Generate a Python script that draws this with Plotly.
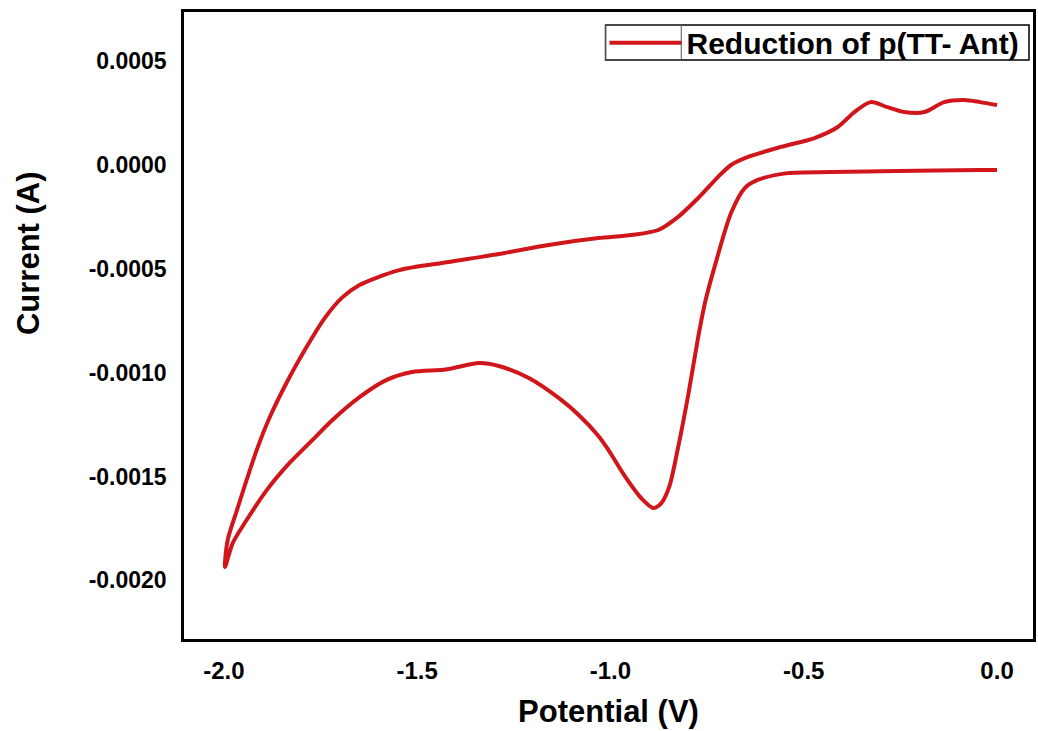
import plotly.graph_objects as go

# Cyclic voltammogram: cathodic sweep (0 -> -2.0 V) then anodic return (-2.0 -> 0 V)
potential_fwd = [0.000, -0.044, -0.258, -0.430, -0.541, -0.619, -0.652, -0.688,
                 -0.729, -0.755, -0.773, -0.799, -0.825, -0.848, -0.869, -0.889, -0.920,
                 -0.961, -1.005, -1.031, -1.082, -1.134, -1.211, -1.289, -1.340, -1.425, -1.513,
                 -1.580, -1.649, -1.719, -1.771, -1.830, -1.889, -1.941, -1.977, -1.997]
current_fwd = [-2.4e-5, -2.4e-5, -2.9e-5, -3.4e-5, -3.9e-5, -7.2e-5, -1.10e-4, -2.31e-4,
               -4.80e-4, -6.60e-4, -8.29e-4, -1.110e-3, -1.360e-3, -1.550e-3, -1.630e-3, -1.652e-3, -1.605e-3,
               -1.503e-3, -1.373e-3, -1.305e-3, -1.204e-3, -1.122e-3, -1.026e-3, -0.968e-3, -0.954e-3, -0.985e-3, -0.997e-3,
               -1.036e-3, -1.118e-3, -1.228e-3, -1.325e-3, -1.435e-3, -1.566e-3, -1.710e-3, -1.821e-3, -1.936e-3]

potential_rev = [-1.990, -1.966, -1.941, -1.915, -1.881, -1.838, -1.786, -1.740, -1.695, -1.649,
                 -1.546, -1.418, -1.289, -1.160, -1.031, -0.946, -0.876, -0.825, -0.773, -0.722,
                 -0.688, -0.644, -0.559, -0.472, -0.412, -0.369, -0.327, -0.284, -0.240, -0.188,
                 -0.137, -0.085, -0.044, 0.000]
current_rev = [-1.806e-3, -1.662e-3, -1.517e-3, -1.373e-3, -1.214e-3, -1.050e-3, -0.877e-3, -0.740e-3, -0.640e-3, -0.578e-3,
               -0.506e-3, -0.467e-3, -0.429e-3, -0.385e-3, -0.352e-3, -0.337e-3, -0.313e-3, -0.250e-3, -0.159e-3, -0.058e-3,
               0.0, 0.039e-3, 0.087e-3, 0.130e-3, 0.183e-3, 0.255e-3, 0.303e-3, 0.279e-3, 0.255e-3, 0.255e-3,
               0.303e-3, 0.313e-3, 0.303e-3, 0.289e-3]

x_ticks = [-2.0, -1.5, -1.0, -0.5, 0.0]
x_tick_labels = ["-2.0", "-1.5", "-1.0", "-0.5", "0.0"]
y_ticks = [0.0005, 0.0, -0.0005, -0.0010, -0.0015, -0.0020]
y_tick_labels = ["0.0005", "0.0000", "-0.0005", "-0.0010", "-0.0015", "-0.0020"]

series_name = "Reduction of p(TT- Ant)"
x_title = "Potential (V)"
y_title = "Current (A)"

FONT = "Liberation Sans, Arial, sans-serif"
RED = "#d0161b"

fig = go.Figure()
fig.add_trace(go.Scatter(
    x=potential_fwd + potential_rev,
    y=current_fwd + current_rev,
    mode="lines",
    line=dict(color=RED, width=4, shape="spline", smoothing=0.8),
    name=series_name,
    showlegend=True,
))

fig.update_layout(
    width=1038, height=731,
    margin=dict(l=184, r=2, t=12, b=92),
    paper_bgcolor="white", plot_bgcolor="white",
    font=dict(family=FONT, color="black"),
    showlegend=True,
    legend=dict(
        x=0.4953, xanchor="left", y=0.951, yanchor="middle",
        bgcolor="rgba(0,0,0,0)", borderwidth=0,
        font=dict(family=FONT, size=30, color="black", weight="bold"),
        itemwidth=72, tracegroupgap=0,
    ),
    xaxis=dict(
        range=[-2.103, 0.093],
        tickvals=x_ticks, ticktext=x_tick_labels,
        ticks="", showgrid=False, zeroline=False,
        showline=True, linecolor="black", linewidth=2.5, mirror=True,
        tickfont=dict(family=FONT, size=24, color="black", weight="bold"),
        ticklabelstandoff=8,
        title=dict(text=x_title, font=dict(family=FONT, size=31, color="black", weight="bold"), standoff=18),
    ),
    yaxis=dict(
        range=[-0.002283, 0.000737],
        tickvals=y_ticks, ticktext=y_tick_labels,
        ticks="", showgrid=False, zeroline=False,
        showline=True, linecolor="black", linewidth=2.5, mirror=True,
        tickfont=dict(family=FONT, size=23, color="black", weight="bold"),
        ticklabelstandoff=10,
    ),
    shapes=[
        dict(type="rect", xref="paper", yref="paper",
             x0=0.4965, x1=0.9953, y0=0.9234, y1=0.9793,
             line=dict(color="black", width=1.5), fillcolor="white", layer="below"),
        dict(type="rect", xref="paper", yref="paper",
             x0=0.4965, x1=0.5857, y0=0.9234, y1=0.9793,
             line=dict(color="#555555", width=1), fillcolor="rgba(0,0,0,0)", layer="below"),
    ],
)

fig.add_annotation(
    text=y_title, textangle=-90,
    xref="paper", yref="paper",
    x=-0.183, y=0.615, xanchor="center", yanchor="middle",
    showarrow=False,
    font=dict(family=FONT, size=31, color="black", weight="bold"),
)

fig.write_html("out.html")
